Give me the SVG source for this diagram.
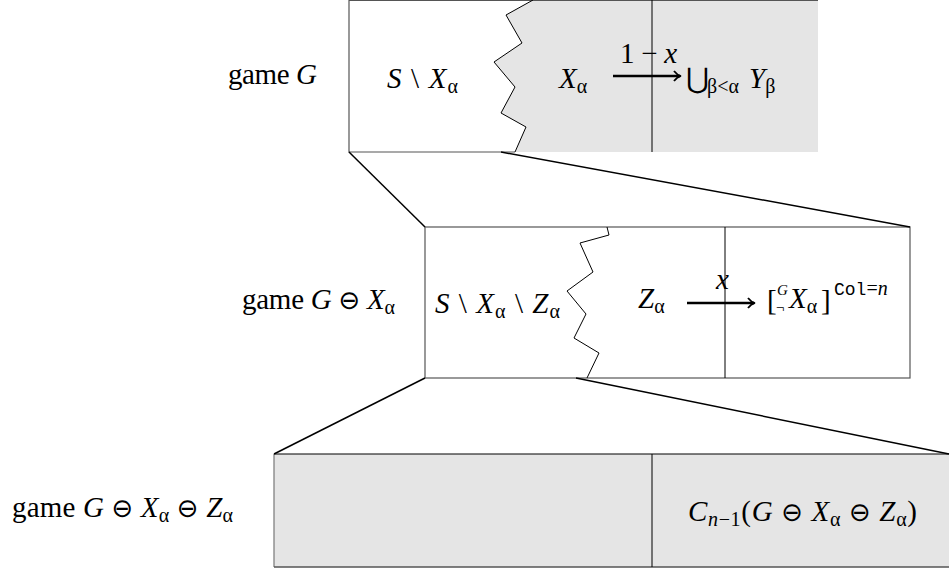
<svg xmlns="http://www.w3.org/2000/svg" width="950" height="571" viewBox="0 0 950 571">
<defs>
<style>
.t{font-family:"Liberation Serif","DejaVu Serif",serif;font-size:29px;fill:#000}
.i{font-style:italic}
.s{font-size:20px}
.op{font-family:"DejaVu Sans",sans-serif;font-size:26px}
.mono{font-family:"Liberation Mono","DejaVu Sans Mono",monospace;font-size:18px}
.gray{fill:#e5e5e5;stroke:none}
.border{stroke:#555;stroke-width:1.2;fill:none}
.thin{stroke:#000;stroke-width:1;fill:none}
.conn{stroke:#000;stroke-width:1.5;fill:none}
.arrow{stroke:#000;stroke-width:2.4;fill:none}
</style>
<marker id="ah" markerWidth="12" markerHeight="12" refX="9" refY="6" orient="auto" markerUnits="userSpaceOnUse">
<path d="M3,1 Q6,5 10,6 Q6,7 3,11" stroke="#000" stroke-width="1.8" fill="none"/>
</marker>
</defs>

<g id="level1">
<polygon class="gray" points="533,0 818,0 818,152 515,152 526,127 501,113 515,87 494,62 522,43 506,15"/>
<polyline class="border" points="533,0.5 349,0.5 349,152 515,152"/>
<line class="border" x1="533" y1="0.5" x2="818" y2="0.5" stroke="#777"/>
<polyline class="thin" points="533,0 506,15 522,43 494,62 515,87 501,113 526,127 515,152"/>
<line class="thin" x1="652" y1="0" x2="652" y2="152"/>
<text class="t" x="228" y="84" textLength="89" lengthAdjust="spacing">game <tspan class="i">G</tspan></text>
<text class="t" x="387" y="88" textLength="71" lengthAdjust="spacing"><tspan class="i">S</tspan> \ <tspan class="i">X</tspan><tspan class="s" dy="5">α</tspan></text>
<text class="t" x="559" y="88"><tspan class="i">X</tspan><tspan class="s" dy="5">α</tspan></text>
<line class="arrow" x1="613" y1="76" x2="680" y2="76" marker-end="url(#ah)"/>
<text class="t" x="620" y="63" textLength="57" lengthAdjust="spacing">1 − <tspan class="i">x</tspan></text>
<text class="t op" x="686" y="88" style="font-size:28px">⋃</text>
<text class="t s" x="707" y="93">β&lt;α</text>
<text class="t" x="749" y="88"><tspan class="i">Y</tspan><tspan class="s" dy="5">β</tspan></text>
</g>

<g id="level2">
<rect x="425" y="227" width="485" height="151" fill="#fff" class="border"/>
<polyline class="thin" points="607,227 609,235 580,243 593,272 567,291 586,314 574,338 599,353 587,378"/>
<line class="thin" x1="725" y1="227" x2="725" y2="378"/>
<text class="t" x="242" y="309" textLength="153" lengthAdjust="spacing">game <tspan class="i">G</tspan> <tspan class="op">⊖</tspan> <tspan class="i">X</tspan><tspan class="s" dy="5">α</tspan></text>
<text class="t" x="435" y="313" textLength="125" lengthAdjust="spacing"><tspan class="i">S</tspan> \ <tspan class="i">X</tspan><tspan class="s" dy="5">α</tspan><tspan dy="-5"> \ </tspan><tspan class="i">Z</tspan><tspan class="s" dy="5">α</tspan></text>
<text class="t" x="638" y="308"><tspan class="i">Z</tspan><tspan class="s" dy="5">α</tspan></text>
<line class="arrow" x1="687" y1="303" x2="754" y2="303" marker-end="url(#ah)"/>
<text class="t i" x="716" y="289">x</text>
<text class="t" x="767" y="310">[</text>
<text class="t i" x="777" y="295" style="font-size:15px">G</text>
<text class="t" x="776" y="312" style="font-size:15px">¬</text>
<text class="t" x="789" y="308"><tspan class="i">X</tspan><tspan class="s" dy="5">α</tspan></text>
<text class="t" x="821" y="310">]</text>
<text class="t" x="834" y="295"><tspan class="mono">Col</tspan><tspan style="font-size:20px">=</tspan><tspan class="i" style="font-size:20px">n</tspan></text>
</g>

<g id="level3">
<rect x="274" y="454" width="675" height="113" class="gray"/>
<line x1="274" y1="454" x2="949" y2="454" stroke="#000" stroke-width="1.2"/>
<line x1="274" y1="454" x2="274" y2="567" stroke="#777" stroke-width="1.2"/>
<line x1="274" y1="567" x2="949" y2="567" stroke="#555" stroke-width="1.5"/>
<line class="thin" x1="652" y1="454" x2="652" y2="567"/>
<text class="t" x="12" y="517" textLength="221" lengthAdjust="spacing">game <tspan class="i">G</tspan> <tspan class="op">⊖</tspan> <tspan class="i">X</tspan><tspan class="s" dy="5">α</tspan><tspan dy="-5"> </tspan><tspan class="op">⊖</tspan> <tspan class="i">Z</tspan><tspan class="s" dy="5">α</tspan></text>
<text class="t" x="688" y="521" textLength="229" lengthAdjust="spacing"><tspan class="i">C</tspan><tspan class="s" dy="5"><tspan class="i">n</tspan>−1</tspan><tspan dy="-5">(</tspan><tspan class="i">G</tspan> <tspan class="op">⊖</tspan> <tspan class="i">X</tspan><tspan class="s" dy="5">α</tspan><tspan dy="-5"> </tspan><tspan class="op">⊖</tspan> <tspan class="i">Z</tspan><tspan class="s" dy="5">α</tspan><tspan dy="-5">)</tspan></text>
</g>

<g id="connectors">
<line class="conn" x1="349" y1="152" x2="425" y2="227"/>
<line class="conn" x1="501" y1="152" x2="910" y2="227"/>
<line class="conn" x1="425" y1="378" x2="274" y2="454"/>
<line class="conn" x1="576" y1="378" x2="949" y2="454"/>
</g>
</svg>
